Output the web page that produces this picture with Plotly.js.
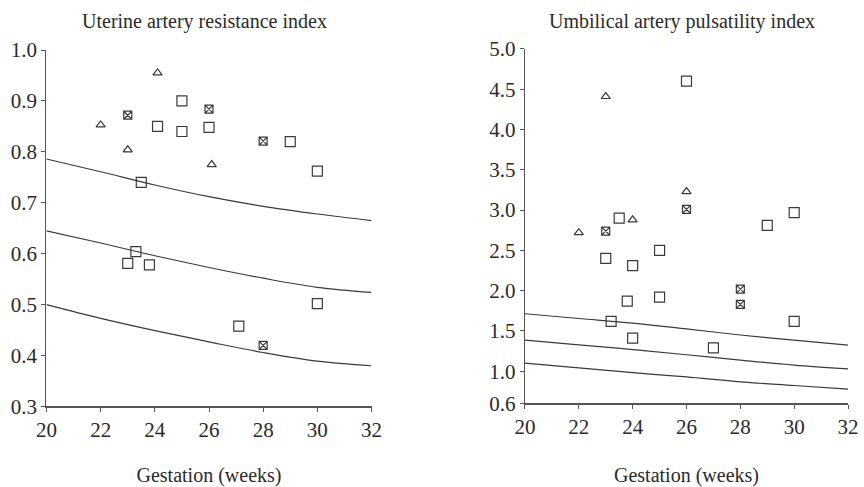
<!DOCTYPE html>
<html>
<head>
<meta charset="utf-8">
<script src="https://cdn.plot.ly/plotly-3.0.1.min.js"></script>
<style>html,body{margin:0;padding:0;background:#fff;}#chart{width:864px;height:487px;}</style>
</head>
<body>
<div id="chart"></div>
<script>
// Gestation grid for reference curves
const curveWeeks = [20, 22, 24, 26, 28, 30, 32];

// Left panel: Uterine artery resistance index
const uaTitle = "Uterine artery resistance index";
const uaUpper = [0.786, 0.761, 0.735, 0.712, 0.693, 0.678, 0.665];
const uaMiddle = [0.645, 0.621, 0.596, 0.573, 0.552, 0.534, 0.524];
const uaLower = [0.500, 0.473, 0.449, 0.427, 0.406, 0.389, 0.380];
const uaTriX = [24.1, 22, 23, 26.1];
const uaTriY = [0.955, 0.853, 0.804, 0.775];
const uaCrossX = [23, 26, 28, 28];
const uaCrossY = [0.872, 0.884, 0.821, 0.420];
const uaSqX = [25, 24.1, 25, 26, 29, 30, 23.5, 23.3, 23, 23.8, 30, 27.1];
const uaSqY = [0.90, 0.85, 0.84, 0.848, 0.82, 0.762, 0.74, 0.604, 0.581, 0.578, 0.502, 0.458];
const uaTicks = [0.3, 0.4, 0.5, 0.6, 0.7, 0.8, 0.9, 1.0];

// Right panel: Umbilical artery pulsatility index
const umTitle = "Umbilical artery pulsatility index";
const umUpper = [1.714, 1.655, 1.597, 1.525, 1.450, 1.386, 1.324];
const umMiddle = [1.387, 1.328, 1.269, 1.205, 1.138, 1.076, 1.029];
const umLower = [1.101, 1.042, 0.982, 0.929, 0.869, 0.823, 0.777];
const umTriX = [23, 26, 24, 22];
const umTriY = [4.41, 3.23, 2.88, 2.72];
const umCrossX = [26, 23, 28, 28];
const umCrossY = [3.01, 2.74, 2.02, 1.83];
const umSqX = [26, 30, 23.5, 29, 23, 25, 24, 23.8, 25, 23.2, 30, 24, 27];
const umSqY = [4.60, 2.97, 2.90, 2.81, 2.40, 2.50, 2.31, 1.87, 1.92, 1.62, 1.62, 1.41, 1.29];
const umTicks = [0.6, 1.0, 1.5, 2.0, 2.5, 3.0, 3.5, 4.0, 4.5, 5.0];

const xTicks = [20, 22, 24, 26, 28, 30, 32];
const xLabel = "Gestation (weeks)";

const ink = '#3a3a3a';
const font = 'Liberation Serif, Times New Roman, serif';

function curve(x, y, xa, ya) {
  return {x: x, y: y, xaxis: xa, yaxis: ya, mode: 'lines', type: 'scatter',
    line: {color: ink, width: 1.2, shape: 'spline', smoothing: 1}, hoverinfo: 'skip', showlegend: false};
}
function pts(x, y, xa, ya, sym, size) {
  return {x: x, y: y, xaxis: xa, yaxis: ya, mode: 'markers', type: 'scatter',
    marker: {symbol: sym, size: size, color: ink, line: {color: ink, width: 1.2}}, showlegend: false};
}

const data = [
  curve(curveWeeks, uaUpper, 'x', 'y'),
  curve(curveWeeks, uaMiddle, 'x', 'y'),
  curve(curveWeeks, uaLower, 'x', 'y'),
  pts(uaSqX, uaSqY, 'x', 'y', 'square-open', 10),
  pts(uaCrossX, uaCrossY, 'x', 'y', 'square-x-open', 8),
  pts(uaTriX, uaTriY, 'x', 'y', 'triangle-up-open', 8),
  curve(curveWeeks, umUpper, 'x2', 'y2'),
  curve(curveWeeks, umMiddle, 'x2', 'y2'),
  curve(curveWeeks, umLower, 'x2', 'y2'),
  pts(umSqX, umSqY, 'x2', 'y2', 'square-open', 10),
  pts(umCrossX, umCrossY, 'x2', 'y2', 'square-x-open', 8),
  pts(umTriX, umTriY, 'x2', 'y2', 'triangle-up-open', 8)
];

const axBase = {
  showline: true, linecolor: '#555', linewidth: 1.2, showgrid: false, zeroline: false,
  ticks: 'outside', ticklen: 4, tickcolor: '#555', tickwidth: 1,
  tickfont: {family: font, size: 21, color: '#2a2a2a'}
};

const layout = {
  width: 864, height: 487,
  margin: {l: 0, r: 0, t: 0, b: 0},
  paper_bgcolor: '#fff', plot_bgcolor: '#fff',
  font: {family: font, color: '#2a2a2a'},
  xaxis: Object.assign({}, axBase, {domain: [0.0538, 0.4300], range: [20, 32], tickmode: 'array', tickvals: xTicks,
    anchor: 'y', title: {text: xLabel, font: {family: font, size: 20, color: '#2a2a2a'}, standoff: 32}}),
  yaxis: Object.assign({}, axBase, {domain: [0.1653, 0.8973], range: [0.3, 1.0], tickmode: 'array', tickvals: uaTicks,
    tickformat: '.1f', anchor: 'x'}),
  xaxis2: Object.assign({}, axBase, {domain: [0.6076, 0.9815], range: [20, 32], tickmode: 'array', tickvals: xTicks,
    anchor: 'y2', title: {text: xLabel, font: {family: font, size: 20, color: '#2a2a2a'}, standoff: 32}}),
  yaxis2: Object.assign({}, axBase, {domain: [0.1715, 0.8994], range: [0.6, 5.0], tickmode: 'array', tickvals: umTicks,
    tickformat: '.1f', anchor: 'x2'}),
  annotations: [
    {text: uaTitle, xref: 'paper', yref: 'paper', x: 0.2367, y: 0.9554, xanchor: 'center', yanchor: 'middle',
      showarrow: false, font: {family: font, size: 20, color: '#2a2a2a'}},
    {text: umTitle, xref: 'paper', yref: 'paper', x: 0.7888, y: 0.9554, xanchor: 'center', yanchor: 'middle',
      showarrow: false, font: {family: font, size: 20, color: '#2a2a2a'}}
  ]
};

Plotly.newPlot('chart', data, layout, {staticPlot: true, displayModeBar: false});
</script>
</body>
</html>
